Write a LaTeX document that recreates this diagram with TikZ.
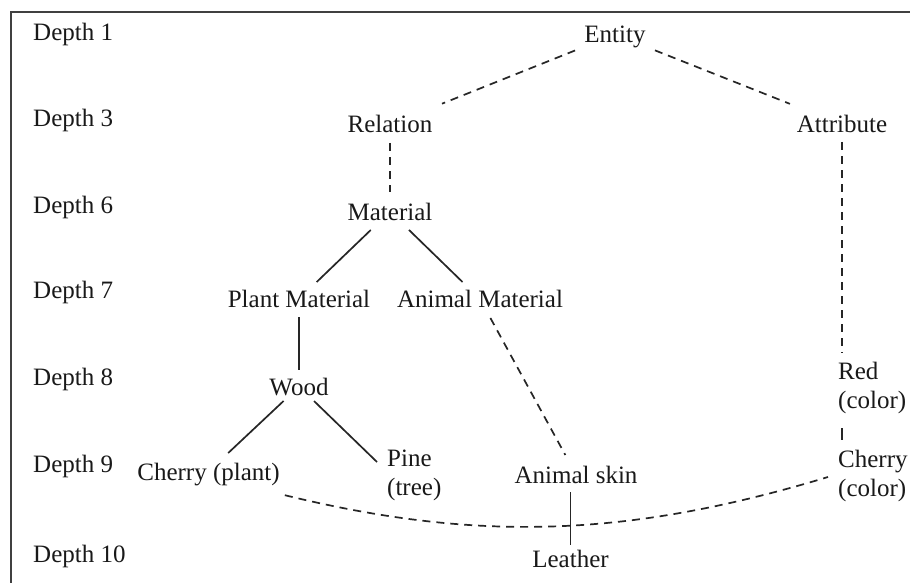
\documentclass[tikz,border=0pt]{standalone}
\usepackage{fontspec}
\setmainfont{Liberation Serif}
\usetikzlibrary{calc}
\begin{document}
\begin{tikzpicture}[x=1pt,y=-1pt,
  lbl/.style={font=\fontsize{25}{29}\selectfont, text=black!90, inner sep=0pt,
              text height=17pt, text depth=0pt, anchor=base},
  depthlbl/.style={lbl, anchor=base west},
  twoline/.style={font=\fontsize{25}{29}\selectfont, text=black!90, inner sep=0pt,
                  align=left, anchor=north west},
  link/.style={line width=1.7pt, black!85},
  weak/.style={link, dash pattern=on 8pt off 6pt},
  frame/.style={line width=2.2pt, black!75}]

% canvas and the open frame (top and left edges)
\useasboundingbox (0,0) rectangle (910,583);
\fill[white] (0,0) rectangle (910,583);
\draw[frame] (11,583) -- (11,12) -- (910,12);

% depth column
\node[depthlbl] (d1)  at (33,41)  {Depth 1};
\node[depthlbl] (d3)  at (33,127) {Depth 3};
\node[depthlbl] (d6)  at (33,213) {Depth 6};
\node[depthlbl] (d7)  at (33,298) {Depth 7};
\node[depthlbl] (d8)  at (33,385) {Depth 8};
\node[depthlbl] (d9)  at (33,472) {Depth 9};
\node[depthlbl] (d10) at (33,562) {Depth 10};

% concepts
\node[lbl] (ent)     at (615,43)    {Entity};
\node[lbl] (rel)     at (390,133)   {Relation};
\node[lbl] (att)     at (842,133)   {Attribute};
\node[lbl] (mat)     at (390,220)   {Material};
\node[lbl] (pm)      at (299,307.5) {Plant Material};
\node[lbl] (am)      at (480,307.5) {Animal Material};
\node[lbl] (wood)    at (299,395)   {Wood};
\node[lbl] (cp)      at (208.5,480) {Cherry (plant)};
\node[lbl] (skin)    at (576,483)   {Animal skin};
\node[lbl] (leather) at (570.5,567) {Leather};
\node[twoline] (rc)   at (838,362) {Red\\(color)};
\node[twoline] (pine) at (387,450) {Pine\\(tree)};
\node[twoline] (cc)   at (838,450) {Cherry\\(color)};

% dashed links
\draw[weak, shorten <=43pt, shorten >=56pt] (ent.center) -- (rel.center);
\draw[weak, shorten <=43pt, shorten >=56pt] (ent.center) -- (att.center);
\draw[weak, shorten <=18.5pt, shorten >=19.5pt] (rel.center) -- (mat.center);
\draw[weak, shorten <=17.5pt, shorten >=9pt] (att.center) -- (att.center |- rc.north);
\draw[weak, shorten <=21.7pt, shorten >=22.2pt] (am.center) -- (skin.center);
\draw[weak] ($(cp.south east)+(5,15)$) .. controls +(185,45) and +(-208,63) .. ($(cc.north west)+(-10,27)$);

% solid links
\draw[link, shorten <=26.7pt, shorten >=24.5pt] (mat.center) -- (pm.center);
\draw[link, shorten <=26.5pt, shorten >=24.4pt] (mat.center) -- (am.center);
\draw[link, shorten <=18pt, shorten >=16.5pt] (pm.center) -- (wood.center);
\draw[link, shorten <=21.2pt, shorten >=27pt] (wood.center) -- (cp.center);
\draw[link, shorten <=20.9pt] (wood.center) -- ($(pine.north west)+(-10,12)$);
\draw[link, shorten <=14pt, shorten >=10pt] ($(rc.south west)+(4,0)$) -- ($(cc.north west)+(4,0)$);
\draw[link, shorten <=17.5pt, shorten >=13.5pt] (leather.center |- skin.center) -- (leather.center);
\end{tikzpicture}
\end{document}
